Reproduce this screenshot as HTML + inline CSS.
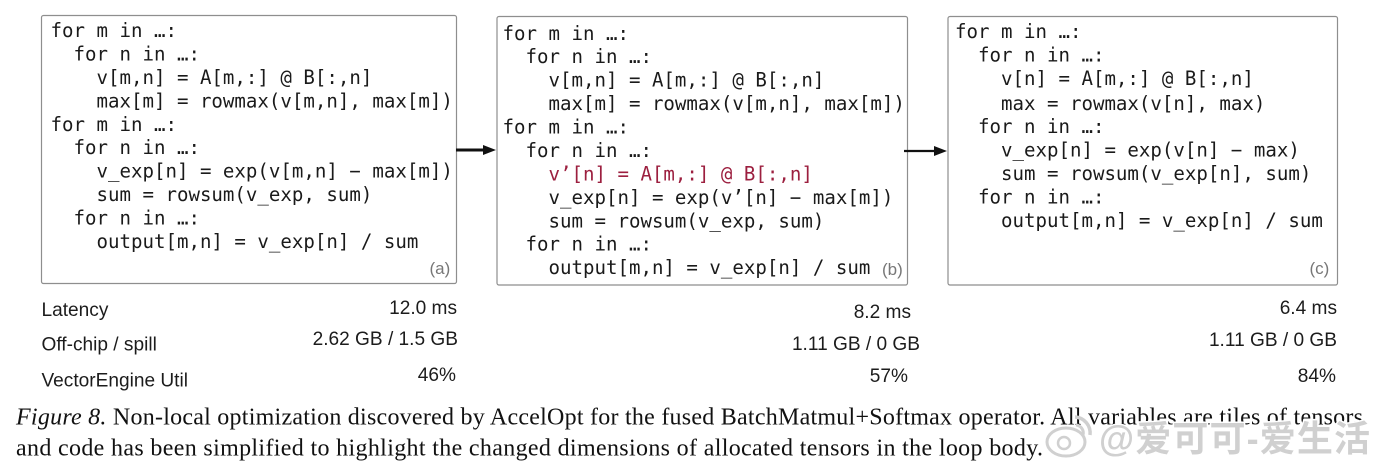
<!DOCTYPE html>
<html>
<head>
<meta charset="utf-8">
<style>
html,body{margin:0;padding:0;background:#fff;width:1384px;height:470px;overflow:hidden}
svg{display:block}
.c{font-family:"DejaVu Sans Mono","Liberation Mono",monospace;font-size:19.1px;fill:#1a1a1a;white-space:pre}
.s{font-family:"Liberation Sans",Arial,sans-serif;font-size:19.1px;fill:#1c1c1c}
.l{font-family:"Liberation Sans",Arial,sans-serif;font-size:17px;fill:#777}
.f{font-family:"Liberation Serif",serif;font-size:24px;fill:#111}
.w{font-family:"Liberation Sans","Noto Sans CJK SC",sans-serif;font-size:36px;fill:#d0d0d0;stroke:#fff;stroke-width:3px;paint-order:stroke;font-weight:bold}
</style>
</head>
<body>
<svg width="1384" height="470" viewBox="0 0 1384 470" xmlns="http://www.w3.org/2000/svg">
<rect x="41.5" y="15.5" width="415" height="268" rx="2" fill="#fff" stroke="#8e8e8e" stroke-width="1.2"/>
<rect x="497" y="16.5" width="410.5" height="268.5" rx="2" fill="#fff" stroke="#8e8e8e" stroke-width="1.2"/>
<rect x="948" y="16.5" width="389.5" height="268.5" rx="2" fill="#fff" stroke="#8e8e8e" stroke-width="1.2"/>

<text class="c" xml:space="preserve" x="50.5" y="37">for m in …:</text>
<text class="c" xml:space="preserve" x="50.5" y="60.5">  for n in …:</text>
<text class="c" xml:space="preserve" x="50.5" y="84">    v[m,n] = A[m,:] @ B[:,n]</text>
<text class="c" xml:space="preserve" x="50.5" y="107.5">    max[m] = rowmax(v[m,n], max[m])</text>
<text class="c" xml:space="preserve" x="50.5" y="131">for m in …:</text>
<text class="c" xml:space="preserve" x="50.5" y="154">  for n in …:</text>
<text class="c" xml:space="preserve" x="50.5" y="177.5">    v_exp[n] = exp(v[m,n] − max[m])</text>
<text class="c" xml:space="preserve" x="50.5" y="201">    sum = rowsum(v_exp, sum)</text>
<text class="c" xml:space="preserve" x="50.5" y="224.5">  for n in …:</text>
<text class="c" xml:space="preserve" x="50.5" y="248">    output[m,n] = v_exp[n] / sum</text>
<text class="l" x="429.5" y="274">(a)</text>

<text class="c" xml:space="preserve" x="502.5" y="40">for m in …:</text>
<text class="c" xml:space="preserve" x="502.5" y="63">  for n in …:</text>
<text class="c" xml:space="preserve" x="502.5" y="86.5">    v[m,n] = A[m,:] @ B[:,n]</text>
<text class="c" xml:space="preserve" x="502.5" y="110">    max[m] = rowmax(v[m,n], max[m])</text>
<text class="c" xml:space="preserve" x="502.5" y="133.5">for m in …:</text>
<text class="c" xml:space="preserve" x="502.5" y="157">  for n in …:</text>
<text class="c" xml:space="preserve" x="502.5" y="180.5" style="fill:#9c1f3f">    v’[n] = A[m,:] @ B[:,n]</text>
<text class="c" xml:space="preserve" x="502.5" y="204">    v_exp[n] = exp(v’[n] − max[m])</text>
<text class="c" xml:space="preserve" x="502.5" y="227.5">    sum = rowsum(v_exp, sum)</text>
<text class="c" xml:space="preserve" x="502.5" y="250.5">  for n in …:</text>
<text class="c" xml:space="preserve" x="502.5" y="274">    output[m,n] = v_exp[n] / sum</text>
<text class="l" x="882" y="275">(b)</text>

<text class="c" xml:space="preserve" x="955" y="38">for m in …:</text>
<text class="c" xml:space="preserve" x="955" y="61.5">  for n in …:</text>
<text class="c" xml:space="preserve" x="955" y="85">    v[n] = A[m,:] @ B[:,n]</text>
<text class="c" xml:space="preserve" x="955" y="110">    max = rowmax(v[n], max)</text>
<text class="c" xml:space="preserve" x="955" y="133">  for n in …:</text>
<text class="c" xml:space="preserve" x="955" y="156.5">    v_exp[n] = exp(v[n] − max)</text>
<text class="c" xml:space="preserve" x="955" y="180">    sum = rowsum(v_exp[n], sum)</text>
<text class="c" xml:space="preserve" x="955" y="203.5">  for n in …:</text>
<text class="c" xml:space="preserve" x="955" y="227">    output[m,n] = v_exp[n] / sum</text>
<text class="l" x="1309.5" y="274">(c)</text>

<line x1="456" y1="150" x2="484" y2="150" stroke="#111" stroke-width="3"/>
<polygon points="483,145 496,150 483,155" fill="#111"/>
<line x1="904" y1="151" x2="935" y2="151" stroke="#111" stroke-width="2.2"/>
<polygon points="934,146 947,151 934,156" fill="#111"/>

<text class="s" x="41.5" y="316">Latency</text>
<text class="s" x="41.5" y="350.5">Off-chip / spill</text>
<text class="s" x="41.5" y="386.5">VectorEngine Util</text>
<text class="s" text-anchor="end" x="457" y="314">12.0 ms</text>
<text class="s" text-anchor="end" x="458" y="345">2.62 GB / 1.5 GB</text>
<text class="s" text-anchor="end" x="456" y="381">46%</text>
<text class="s" text-anchor="end" x="911" y="318">8.2 ms</text>
<text class="s" text-anchor="end" x="920" y="350">1.11 GB / 0 GB</text>
<text class="s" text-anchor="end" x="908" y="382">57%</text>
<text class="s" text-anchor="end" x="1337" y="314">6.4 ms</text>
<text class="s" text-anchor="end" x="1337" y="346">1.11 GB / 0 GB</text>
<text class="s" text-anchor="end" x="1336" y="382">84%</text>

<text class="f" x="16" y="424.5" textLength="1347" lengthAdjust="spacing"><tspan font-style="italic">Figure 8.</tspan> Non-local optimization discovered by AccelOpt for the fused BatchMatmul+Softmax operator. All variables are tiles of tensors</text>
<text class="f" x="16" y="455.5" textLength="1027" lengthAdjust="spacing">and code has been simplified to highlight the changed dimensions of allocated tensors in the loop body.</text>

<ellipse cx="1066" cy="442" rx="19" ry="14" fill="#fff" stroke="#d0d0d0" stroke-width="3"/>
<circle cx="1064" cy="443" r="6" fill="none" stroke="#d0d0d0" stroke-width="2.5"/>
<path d="M1075 417 a16 16 0 0 1 15 18" fill="none" stroke="#d0d0d0" stroke-width="3.5"/>
<path d="M1076 425 a8 8 0 0 1 7 10" fill="none" stroke="#d0d0d0" stroke-width="3"/>
<text class="w" x="1099" y="451" textLength="271" lengthAdjust="spacing">@爱可可-爱生活</text>
</svg>
</body>
</html>
